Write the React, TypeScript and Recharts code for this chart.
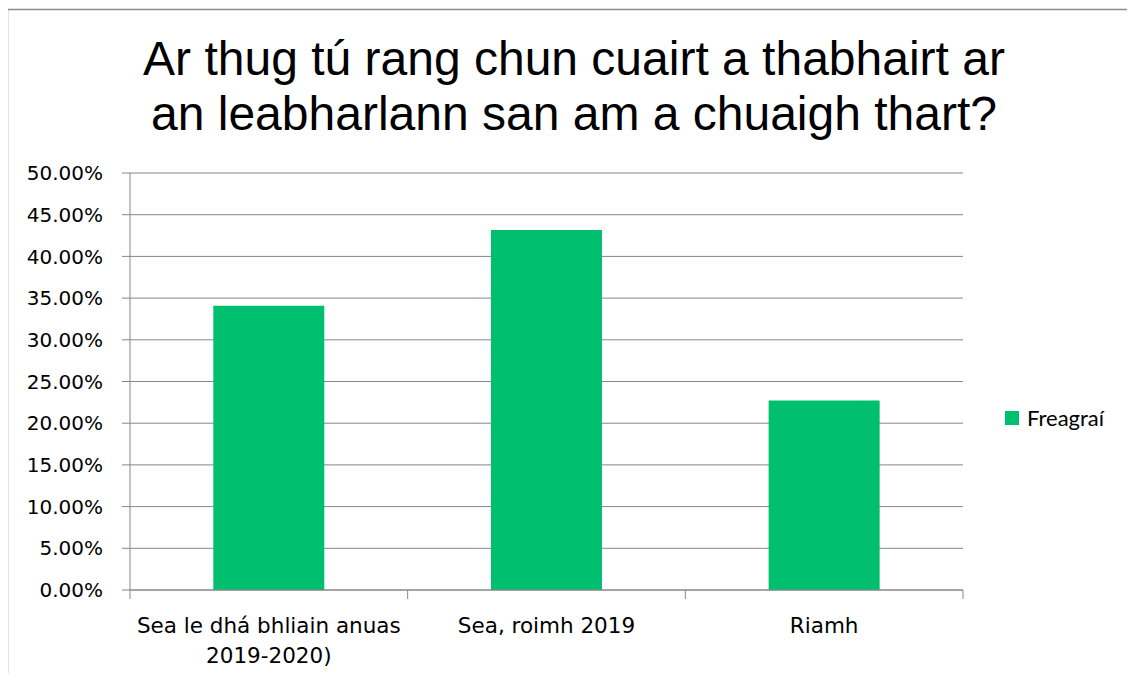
import React from "react";
import { BarChart, Bar, XAxis, YAxis, CartesianGrid } from "recharts";

const categories = ["Sea le dhá bhliain anuas\n2019-2020)", "Sea, roimh 2019", "Riamh"];
const responses = [0.3409, 0.4318, 0.2273];
const yTicks = [0, 0.05, 0.1, 0.15, 0.2, 0.25, 0.3, 0.35, 0.4, 0.45, 0.5];
const seriesName = "Freagraí";
const titleLines = ["Ar thug tú rang chun cuairt a thabhairt ar", "an leabharlann san am a chuaigh thart?"];

const data = categories.map((c, i) => ({ category: c, value: responses[i] }));

const GREEN = "#00BF6F";
const GRID = "#868686";
const CHART_W = 1135;
const CHART_H = 681;
const MARGIN = { top: 173, right: 172, bottom: 90, left: 0 };
const Y_AXIS_W = 130;
const PLOT_W = CHART_W - MARGIN.left - MARGIN.right - Y_AXIS_W;
const BAND = PLOT_W / categories.length;

function CatTick(props: any) {
  const { x, y, payload, index } = props;
  const lines = String(payload.value).split("\n");
  const isLast = index === categories.length - 1;
  return (
    <g>
      <line x1={x - BAND / 2} x2={x - BAND / 2} y1={y} y2={y + 9} stroke={GRID} />
      {isLast && <line x1={x + BAND / 2} x2={x + BAND / 2} y1={y} y2={y + 9} stroke={GRID} />}
      <text textAnchor="middle" fontFamily="DejaVu Sans" fontSize={21.5} fill="#000">
        {lines.map((l, i) => (
          <tspan key={i} x={x} y={y + 43 + i * 30}>
            {l}
          </tspan>
        ))}
      </text>
    </g>
  );
}

export default function App() {
  return (
    <div
      style={{
        position: "relative",
        width: CHART_W,
        height: CHART_H,
        margin: -8,
        overflow: "hidden",
        background: "#fff",
      }}
    >
      <div style={{ position: "absolute", left: 0, top: 0 }}>
        <BarChart
          width={CHART_W}
          height={CHART_H}
          data={data}
          margin={MARGIN}
          barCategoryGap="30%"
        >
          <CartesianGrid vertical={false} stroke={GRID} strokeWidth={1} />
          <XAxis
            dataKey="category"
            height={1}
            tickSize={0}
            tickMargin={0}
            tickLine={false}
            axisLine={{ stroke: GRID }}
            tick={<CatTick />}
            interval={0}
          />
          <YAxis
            width={Y_AXIS_W}
            domain={[0, 0.5]}
            ticks={yTicks}
            tickFormatter={(v: number) => (v * 100).toFixed(2) + "%"}
            tick={{ fontFamily: "DejaVu Sans", fontSize: 20, fill: "#000" }}
            tickSize={8}
            tickMargin={19}
            tickLine={{ stroke: GRID }}
            axisLine={{ stroke: GRID }}
            interval={0}
          />
          <Bar dataKey="value" name={seriesName} fill={GREEN} isAnimationActive={false} />
        </BarChart>
      </div>
      <svg
        width={CHART_W}
        height={CHART_H}
        style={{ position: "absolute", left: 0, top: 0, pointerEvents: "none" }}
      >
        <rect x={7.5} y={9.5} width={1400} height={900} fill="none" stroke="#8c8c8c" strokeWidth={1.5} />
        {titleLines.map((t, i) => (
          <text
            key={i}
            x={574}
            y={75 + i * 55}
            textAnchor="middle"
            fontFamily="Liberation Sans"
            fontSize={48}
            fill="#000"
          >
            {t}
          </text>
        ))}
      </svg>
      <div
        style={{
          position: "absolute",
          left: 1005,
          top: 404,
          display: "flex",
          alignItems: "center",
          fontFamily: "Lato",
          fontSize: 22,
          color: "#000",
          whiteSpace: "nowrap",
        }}
      >
        <span style={{ display: "inline-block", width: 14, height: 14, background: GREEN, marginRight: 8 }} />
        <span>{seriesName}</span>
      </div>
    </div>
  );
}
